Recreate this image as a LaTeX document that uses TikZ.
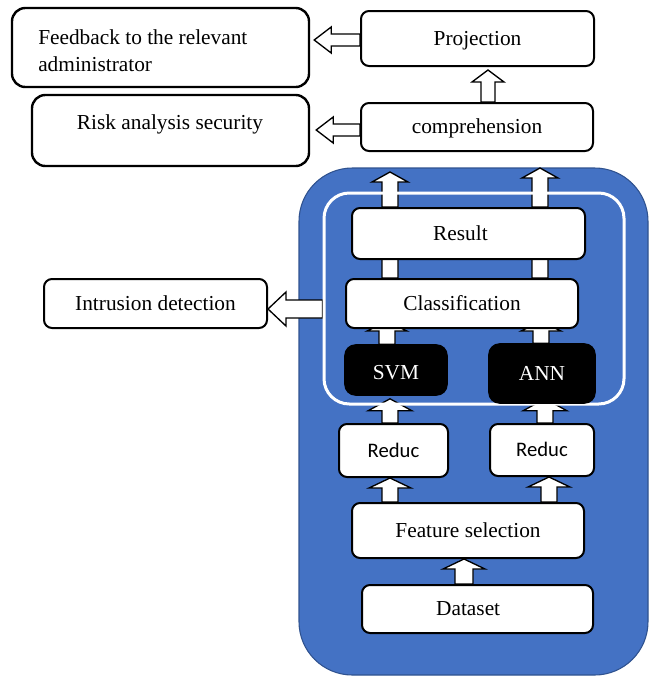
\documentclass[tikz,border=0pt]{standalone}
\usepackage{fontspec}
\setmainfont{Liberation Serif}
\newfontfamily\calib{Carlito}
\usetikzlibrary{calc}
\definecolor{offblue}{HTML}{4472C4}
\definecolor{offblueline}{HTML}{2F528F}
\pgfdeclarelayer{back}
\pgfdeclarelayer{arr}
\pgfsetlayers{back,arr,main}
% up block arrow: #1 column, #2 tail anchor, #3 tip anchor, #4 tip y offset, #5 shaft half, #6 head half, #7 head length
\newcommand\UpArr[7]{%
 \path (#2 -| #1) coordinate (aT) (#3 -| #1) coordinate (aH);
 \draw[blockarrow] ($(aT)+(-#5,0)$) -- ($(aH)+(-#5,#4+#7)$) -- ($(aH)+(-#6,#4+#7)$) -- ($(aH)+(0,#4)$) -- ($(aH)+(#6,#4+#7)$) -- ($(aH)+(#5,#4+#7)$) -- ($(aT)+(#5,0)$) -- cycle;}
% left block arrow: #1 row, #2 tail anchor, #3 tip anchor, #4 tip x offset, #5 shaft half, #6 head half, #7 head length
\newcommand\LeftArr[7]{%
 \path (#1 -| #2) coordinate (aT) (#1 -| #3) coordinate (aH);
 \draw[blockarrow] ($(aT)+(0,-#5)$) -- ($(aH)+(#4+#7,-#5)$) -- ($(aH)+(#4+#7,-#6)$) -- ($(aH)+(#4,0)$) -- ($(aH)+(#4+#7,#6)$) -- ($(aH)+(#4+#7,#5)$) -- ($(aT)+(0,#5)$) -- cycle;}
\begin{document}
\begin{tikzpicture}[x=0.75pt,y=-0.75pt,
  every node/.style={font=\fontsize{16}{20.25}\selectfont},
  box/.style={draw=black,fill=white,line width=1.5pt,rounded corners=6pt,inner sep=0pt,text height=13pt,text depth=3.2pt},
  bigbox/.style={draw=black,fill=white,line width=1.8pt,rounded corners=10pt,inner sep=0pt},
  blackbox/.style={draw=black,fill=black,text=white,line width=1.2pt,rounded corners=8pt,inner sep=0pt,text height=13pt,text depth=3.2pt},
  blockarrow/.style={draw=black,fill=white,line width=1pt,line join=miter},
  sz/.style 2 args={minimum width=#1*0.75pt,minimum height=#2*0.75pt}]
\useasboundingbox (0,0) rectangle (649,676);

% frame
\begin{pgfonlayer}{back}
\node[draw=offblueline,fill=offblue,line width=0.8pt,rounded corners=40pt,sz={349}{507},inner sep=0pt] (frame) at (473.5,421.5) {};
\end{pgfonlayer}

% inner white panel
\node[draw=white,line width=2.25pt,rounded corners=19pt,sz={300}{211},inner sep=0pt] (panel) at (474,298.5) {};

% nodes
\node[bigbox,sz={297}{79}] (fb) at (160.5,47.5) {};
\node[anchor=west,align=left,inner sep=0pt] (fbT) at (38,51) {Feedback to the relevant\\administrator};
\node[box,sz={233}{55}] (proj) at (477.5,38.5) {Projection};
\node[bigbox,sz={277}{71}] (risk) at (170.5,130.5) {};
\node[text height=13pt,text depth=3.2pt,inner sep=0pt] (riskT) at (170,123) {Risk analysis security};
\node[box,sz={232}{48}] (comp) at (477,127) {comprehension};
\node[box,sz={233}{51}] (res) at (468.5,233.5) {Result\kern12pt};
\node[box,sz={232}{49}] (cls) at (462,303.5) {Classification};
\node[blackbox,sz={102}{50},text height=17pt] (svm) at (396,370) {SVM};
\node[blackbox,sz={106}{59}] (ann) at (542,373.5) {ANN};
\node[box,sz={223}{49}] (intr) at (155.5,303.5) {Intrusion detection};
\node[box,sz={109}{53},font=\calib\fontsize{15.5}{18}\selectfont] (redL) at (393.5,450.5) {Reduc};
\node[box,sz={104}{52},font=\calib\fontsize{15.5}{18}\selectfont] (redR) at (542,450) {Reduc};
\node[box,sz={232}{55}] (feat) at (468,530.5) {Feature selection};
\node[box,sz={231}{48}] (data) at (477.5,609) {Dataset\kern14pt};

% columns and rows
\coordinate (cA) at (488,0);
\coordinate (cL) at (390,0);
\coordinate (cR) at (540,0);
\coordinate (cL2) at (387,0);
\coordinate (cR2) at (541,0);
\coordinate (cR3) at (545,0);
\coordinate (cR4) at (549,0);
\coordinate (cD) at (464,0);
\coordinate (r1) at (0,40);
\coordinate (r2) at (0,130);
\coordinate (r3) at (0,309);

\begin{pgfonlayer}{arr}
\LeftArr{r1}{proj.west}{fb.east}{4}{6}{13}{17}
\LeftArr{r2}{comp.west}{risk.east}{6}{6}{13}{17}
\LeftArr{r3}{panel.west}{intr.east}{0}{9}{17}{18}
\UpArr{cA}{comp.north}{proj.south}{3}{7}{16}{12}
\UpArr{cL}{res.north}{res.north}{-35}{8}{18}{10}
\UpArr{cR}{res.north}{res.north}{-39}{8}{18}{10}
\UpArr{cL}{cls.north}{res.south}{-14}{8}{18}{8}
\UpArr{cR}{cls.north}{res.south}{-14}{8}{18}{8}
\UpArr{cL2}{svm.north}{cls.south}{-8}{8}{20}{10}
\UpArr{cR2}{ann.north}{cls.south}{-8}{8}{20}{10}
\UpArr{cL}{redL.north}{svm.south}{3}{8}{22}{12}
\UpArr{cR3}{redR.north}{ann.south}{-5}{8}{22}{12}
\UpArr{cL}{feat.north}{redL.south}{0}{8}{21}{10}
\UpArr{cR4}{feat.north}{redR.south}{0}{8}{21}{10}
\UpArr{cD}{data.north}{feat.south}{0}{9}{21}{10}
\end{pgfonlayer}
\end{tikzpicture}
\end{document}
